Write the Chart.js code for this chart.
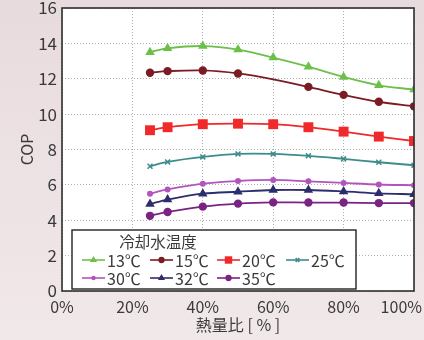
<!DOCTYPE html>
<html>
<head>
<meta charset="utf-8">
<script src="https://cdn.jsdelivr.net/npm/chart.js@4.4.1/dist/chart.umd.min.js"></script>
<style>
  html, body { margin: 0; padding: 0; }
  body { width: 424px; height: 340px; background: linear-gradient(#e8dbde, #f1e8ea); }
  #wrap { position: relative; width: 424px; height: 340px; }
</style>
</head>
<body>
<div id="wrap"><canvas id="copChart" width="424" height="340"></canvas></div>
<script>
// heat ratio [%] of each measured point
var loadRatio = [25, 30, 40, 50, 60, 70, 80, 90, 100];
var xTicks = [0, 20, 40, 60, 80, 100];
var yTicks = [0, 2, 4, 6, 8, 10, 12, 14, 16];

// COP per cooling water temperature
var seriesNames = ['13℃', '15℃', '20℃', '25℃', '30℃', '32℃', '35℃'];
var cop13 = [13.5, 13.72, 13.85, 13.65, 13.2, 12.68, 12.1, 11.63, 11.39];
var cop15 = [12.34, 12.43, 12.47, 12.3, 11.97, 11.54, 11.09, 10.7, 10.44];
var cop20 = [9.09, 9.26, 9.43, 9.46, 9.43, 9.26, 9.01, 8.73, 8.48];
var cop25 = [7.05, 7.3, 7.58, 7.75, 7.75, 7.64, 7.47, 7.28, 7.11];
var cop30 = [5.5, 5.74, 6.07, 6.22, 6.28, 6.2, 6.11, 6.02, 5.98];
var cop32 = [4.92, 5.17, 5.5, 5.61, 5.71, 5.71, 5.63, 5.52, 5.47];
var cop35 = [4.25, 4.47, 4.77, 4.94, 5.01, 5.0, 5.0, 4.97, 4.97];

var legendTitle = '冷却水温度';
var xTitle = '熱量比 [ % ]';
var yTitle = 'COP';

var FONT = '"Noto Sans CJK JP", "Noto Sans", sans-serif';
var TXT = '#3a3a3a';

function pts(vals) {
	return vals.map(function(v, i) { return {x: loadRatio[i], y: v}; });
}

function makeSet(label, vals, color, style, radius) {
	return {
		label: label,
		data: pts(vals),
		borderColor: color,
		backgroundColor: color,
		pointBackgroundColor: color,
		pointBorderColor: color,
		pointStyle: style,
		pointRadius: radius,
		pointBorderWidth: style === 'crossRot' ? 1.5 : 0,
		borderWidth: 1.8,
		tension: 0.35
	};
}

var datasets = [
	makeSet(seriesNames[0], cop13, '#6cc04a', 'triangle', 5.5),
	makeSet(seriesNames[1], cop15, '#7a1c22', 'circle', 4.2),
	makeSet(seriesNames[2], cop20, '#f02a2a', 'rect', 7),
	makeSet(seriesNames[3], cop25, '#3c8c8c', 'crossRot', 3.5),
	makeSet(seriesNames[4], cop30, '#b354bd', 'circle', 3),
	makeSet(seriesNames[5], cop32, '#2c2d6c', 'triangle', 5.5),
	makeSet(seriesNames[6], cop35, '#7a2383', 'circle', 4.2)
];
// the 15℃ curve has no marker at 60%
datasets[1].pointRadius = [4.2, 4.2, 4.2, 4.2, 0, 4.2, 4.2, 4.2, 4.2];

// plot background, frame, x tick labels, axis titles and the boxed legend
var framePlugin = {
	id: 'frame',
	beforeDraw: function(chart) {
		var a = chart.chartArea, ctx = chart.ctx;
		ctx.save();
		ctx.fillStyle = '#ffffff';
		ctx.fillRect(a.left, a.top, a.right - a.left, a.bottom - a.top);
		ctx.restore();
	},
	afterDatasetsDraw: function(chart) {
		var a = chart.chartArea, ctx = chart.ctx;
		ctx.save();
		ctx.strokeStyle = '#2e2e2e';
		ctx.lineWidth = 1.6;
		ctx.strokeRect(a.left, a.top, a.right - a.left, a.bottom - a.top);

		// x tick labels, kept inside the canvas
		ctx.fillStyle = TXT;
		ctx.font = '16px ' + FONT;
		ctx.textAlign = 'center';
		ctx.textBaseline = 'middle';
		var xs = chart.scales.x;
		xTicks.forEach(function(v) {
			var t = v + '%';
			var w = ctx.measureText(t).width;
			var px = Math.min(xs.getPixelForValue(v), chart.width - w / 2 - 2);
			px = Math.max(px, w / 2 + 2);
			ctx.fillText(t, px, a.bottom + 16);
		});

		// axis titles
		ctx.fillText(xTitle, (a.left + a.right) / 2, 325);
		ctx.translate(27, (a.top + a.bottom) / 2);
		ctx.rotate(-Math.PI / 2);
		ctx.fillText(yTitle, 0, 0);
		ctx.restore();

		// legend box
		var bx = 72, by = 230, bw = 284, bh = 59;
		ctx.save();
		ctx.fillStyle = '#ffffff';
		ctx.fillRect(bx, by, bw, bh);
		ctx.strokeStyle = '#222';
		ctx.lineWidth = 1.4;
		ctx.strokeRect(bx, by, bw, bh);
		ctx.fillStyle = TXT;
		ctx.font = '15.5px ' + FONT;
		ctx.textAlign = 'center';
		ctx.textBaseline = 'middle';
		ctx.fillText(legendTitle, 158, 242);
		var cols = [82, 150, 217, 286];
		var rows = [260, 278];
		ctx.font = '16px ' + FONT;
		ctx.textAlign = 'left';
		chart.data.datasets.forEach(function(ds, i) {
			var lx = cols[i % 4], ly = rows[Math.floor(i / 4)];
			ctx.strokeStyle = ds.borderColor;
			ctx.lineWidth = 1.6;
			ctx.beginPath();
			ctx.moveTo(lx, ly);
			ctx.lineTo(lx + 23, ly);
			ctx.stroke();
			var r = Array.isArray(ds.pointRadius) ? ds.pointRadius[0] : ds.pointRadius;
			ctx.fillStyle = ds.borderColor;
			Chart.helpers.drawPoint(ctx, {
				pointStyle: ds.pointStyle,
				radius: r * 0.75,
				borderWidth: ds.pointStyle === 'crossRot' ? 1.3 : 0,
				rotation: 0
			}, lx + 11.5, ly);
			ctx.fillStyle = TXT;
			ctx.fillText(ds.label, lx + 25, ly + 1);
		});
		ctx.restore();
	}
};

var ctx = document.getElementById('copChart').getContext('2d');
var copChart = new Chart(ctx, {
	type: 'line',
	data: { datasets: datasets },
	options: {
		responsive: false,
		animation: false,
		layout: { padding: { top: 8, right: 10, left: 0, bottom: 0 } },
		plugins: { legend: { display: false }, tooltip: { enabled: false } },
		scales: {
			x: {
				type: 'linear',
				min: 0, max: 100,
				afterFit: function(s) { s.height = 49; s.paddingLeft = 0; s.paddingRight = 0; },
				afterBuildTicks: function(s) { s.ticks = xTicks.map(function(v) { return {value: v}; }); },
				grid: { color: '#b0b0b0', lineWidth: 1, drawTicks: false },
				border: { display: false, dash: [1, 2] },
				ticks: { display: false }
			},
			y: {
				min: 0, max: 16,
				afterFit: function(s) { s.width = 62; s.paddingTop = 0; s.paddingBottom = 0; },
				afterBuildTicks: function(s) { s.ticks = yTicks.map(function(v) { return {value: v}; }); },
				grid: { color: '#b0b0b0', lineWidth: 1, drawTicks: false },
				border: { display: false, dash: [1, 2] },
				ticks: {
					padding: 5,
					color: TXT,
					font: { family: FONT, size: 17 }
				}
			}
		}
	},
	plugins: [framePlugin]
});
</script>
</body>
</html>
